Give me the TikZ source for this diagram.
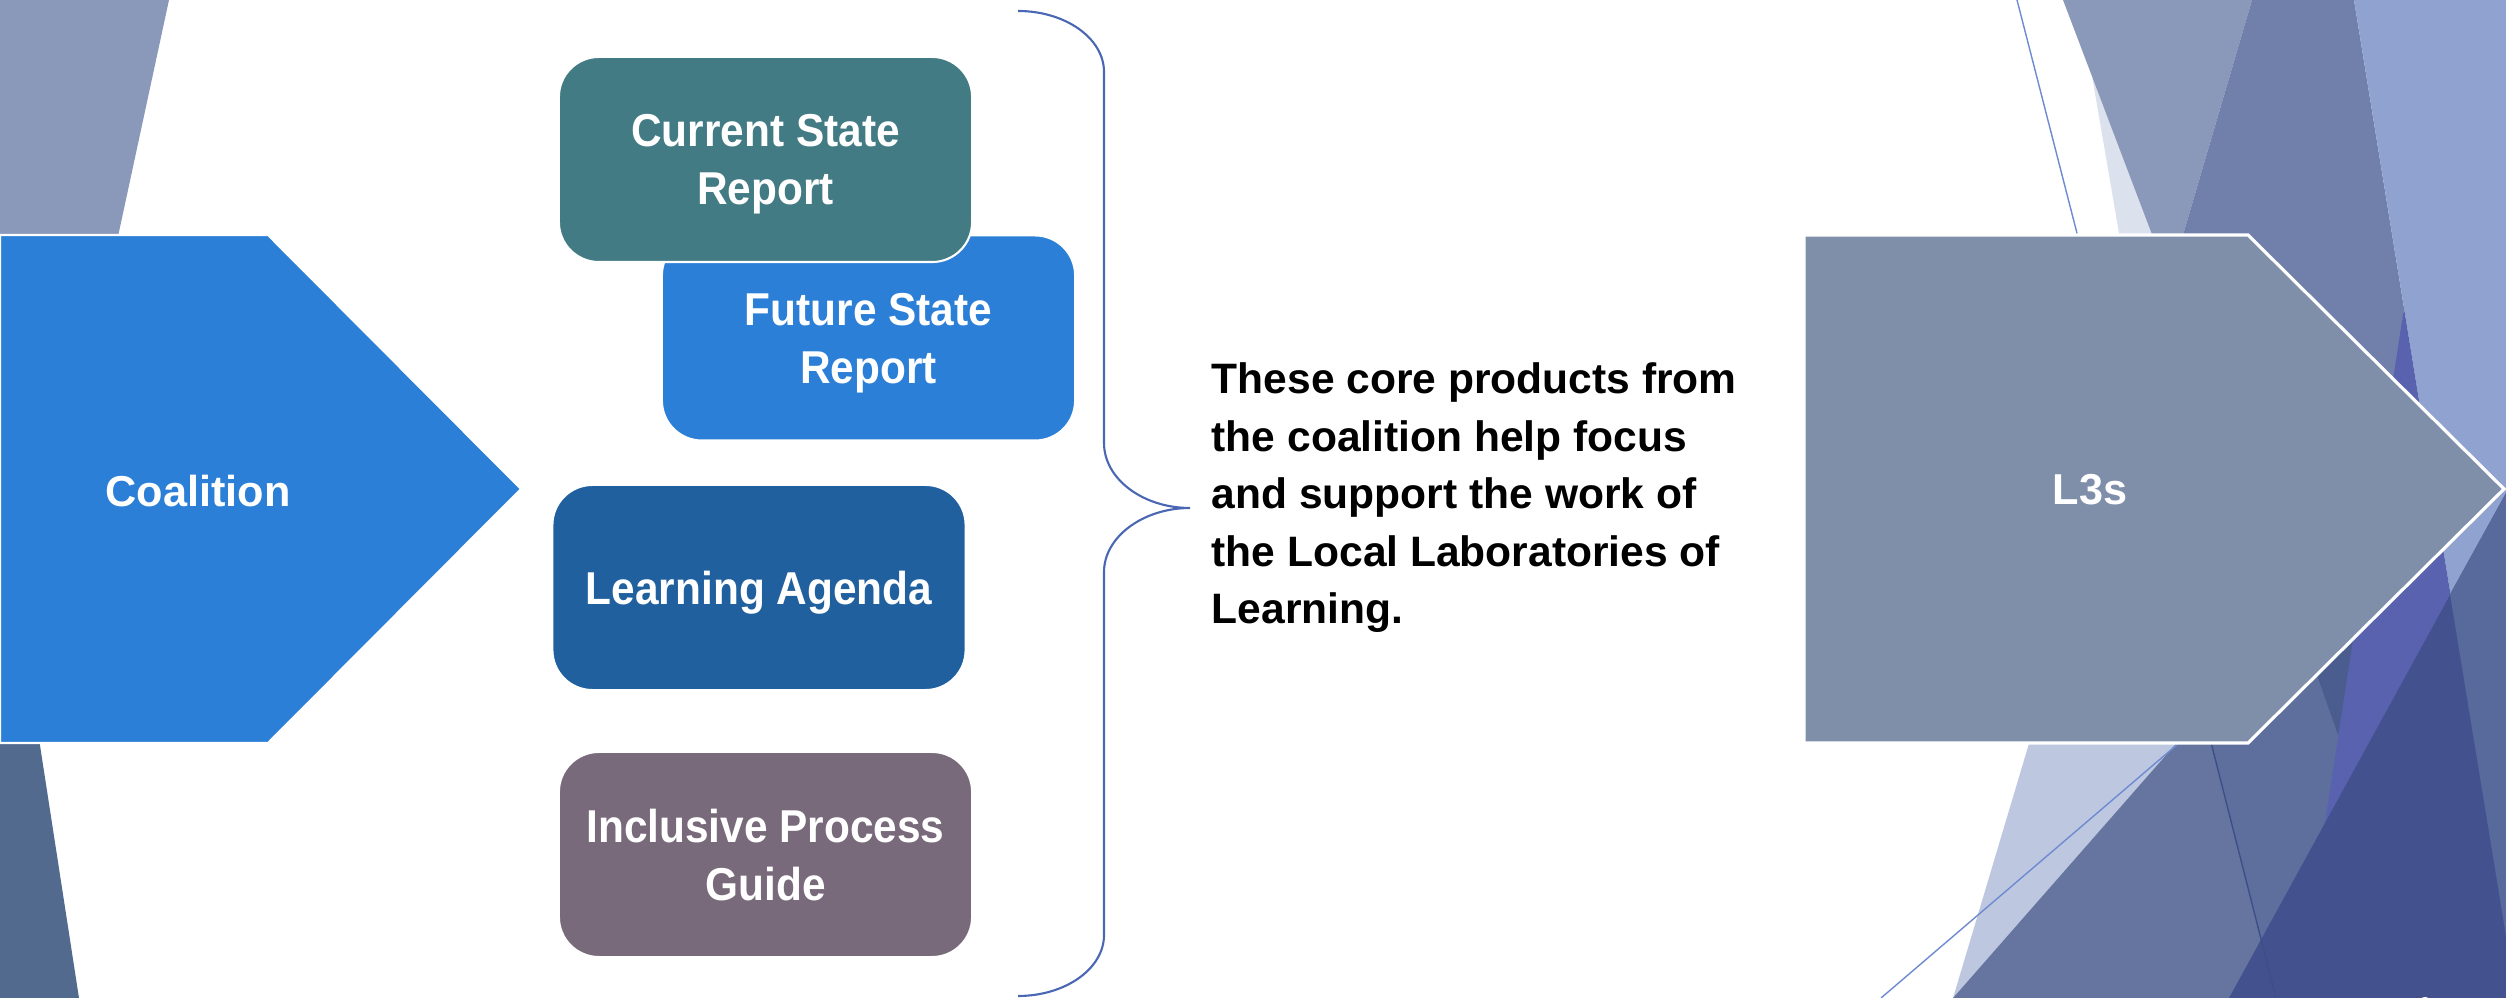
\documentclass[tikz,border=0pt]{standalone}
\usepackage{fontspec}
\setmainfont{Liberation Sans}
\newfontfamily\prodfont[FakeStretch=0.92]{Liberation Sans}
\usetikzlibrary{positioning}

% arrows and boxes
\definecolor{coalblue}{HTML}{2B7FD6}
\definecolor{lthreegray}{HTML}{7F8FA9}
\definecolor{currteal}{HTML}{437B84}
\definecolor{agendablue}{HTML}{21609E}
\definecolor{guidemauve}{HTML}{796A7B}
\definecolor{bracecol}{HTML}{4A67B3}
% background shards
\definecolor{shardgray}{HTML}{8A99BA}
\definecolor{shardslate}{HTML}{516A8E}
\definecolor{shardlav}{HTML}{DCE1EE}
\definecolor{shardsteel}{HTML}{7080AB}
\definecolor{shardperi}{HTML}{90A3D0}
\definecolor{shardpale}{HTML}{BDC8E0}
\definecolor{shardmid}{HTML}{6575A0}
\definecolor{shardmidb}{HTML}{5E6F9D}
\definecolor{sharddusk}{HTML}{4B5D8F}
\definecolor{shardpurple}{HTML}{5862AE}
\definecolor{shardnavy}{HTML}{43528E}
\definecolor{shardblue}{HTML}{586A9B}
\definecolor{shardline}{HTML}{3D4F88}
\definecolor{thinline}{HTML}{6E8AD0}

\tikzset{
  prodbox/.style={rectangle, rounded corners=0.4cm, draw=white, line width=0.6pt,
    minimum width=4.13cm, minimum height=2.05cm, align=center, text=white,
    text depth=0pt, font=\prodfont\bfseries\fontsize{13.1}{16.5}\selectfont},
  arrowlabel/.style={text=white, font=\bfseries\fontsize{12.3}{14}\selectfont},
}

\begin{document}
\begin{tikzpicture}[x=0.01cm, y=-0.01cm]
        \useasboundingbox (0,0) rectangle (2506,998);
        \clip (0,0) rectangle (2506,998);

        % Left shards
        \fill[shardgray] (0,0) -- (169,0) -- (100,320) -- (0,320) -- cycle;
        \fill[shardslate] (0,700) -- (33,700) -- (79,998) -- (0,998) -- cycle;

        % Right shards, back to front
        \fill[shardlav] (2079,0) -- (2160,0) -- (2170,245) -- (2121,245) -- cycle;
        \fill[shardgray] (2063,0) -- (2252,0) -- (2180,245) -- (2156,245) -- cycle;
        \fill[shardsteel] (2252,0) -- (2354,0) -- (2404,308) -- (2380,500) -- (2200,400) -- (2180,245) -- cycle;
        \fill[shardperi] (2354,0) -- (2506,0) -- (2506,936) -- cycle;
        \fill[shardpale] (2033,730) -- (2188,730) -- (1953,998) -- cycle;
        \fill[shardmidb] (2204,715) -- (2300,640) -- (2380,560) -- (2298,998) -- (2276,998) -- cycle;
        \fill[shardmid] (2188,730) -- (2204,715) -- (2276,998) -- (1953,998) -- cycle;
        \fill[sharddusk] (2310,655) -- (2365,620) -- (2338,735) -- cycle;
        \fill[shardpurple] (2404,308) -- (2506,936) -- (2506,998) -- (2298,998) -- cycle;
        \fill[shardnavy] (2506,493) -- (2506,998) -- (2229,998) -- cycle;
        \fill[shardblue] (2506,493) -- (2450,594) -- (2506,936) -- cycle;
        \draw[shardline, line width=0.4pt] (2204,715) -- (2276,998);
        \draw[thinline, line width=0.4pt] (1881,998) -- (2200,725);
        \draw[thinline, line width=0.4pt] (2017,0) -- (2080,245);
        % slide number, cut off at the bottom
        \fill[white] (2425,1005) ellipse (7 and 8);

        % Left arrow (Coalition)
        \filldraw[fill=coalblue, draw=white, line width=0.6pt]
          (0,235) -- (268,235) -- (521,489) -- (268,743) -- (0,743) -- cycle;
        \node[arrowlabel] (coalition) at (198,491) {Coalition};

        % Right arrow (L3s)
        \filldraw[fill=lthreegray, draw=white, line width=0.9pt]
          (1804,235) -- (2248,235) -- (2504,489) -- (2248,743) -- (1804,743) -- cycle;
        \node[arrowlabel] (lthrees) at (2090,490) {L3s};

        % Products
        \node[prodbox, fill=coalblue] (future) at (868.5,338) {Future State\\Report};
        \node[prodbox, fill=currteal] (current) at (765.5,159.5) {Current State\\Report};
        \node[prodbox, fill=agendablue] (agenda) at (759,587.5) {Learning Agenda};
        \node[prodbox, fill=guidemauve] (guide) at (765.5,854.5) {Inclusive Process\\Guide};

        % Brace round the products
        \coordinate (tip) at (1190,508);
        \draw[bracecol, line width=0.6pt] (1018,11) .. controls (1065,11) and (1104,38) .. (1104,72)
          -- (1104,443) .. controls (1104,479) and (1143,508) .. (tip)
          .. controls (1143,508) and (1104,537) .. (1104,572)
          -- (1104,935) .. controls (1104,969) and (1065,996) .. (1018,996);

        % Note next to the brace
        \node[right=0.21cm of tip, yshift=0.1cm, inner sep=0pt, align=left,
          font=\bfseries\fontsize{12.1}{16.35}\selectfont] (note)
          {These core products from\\the coalition help focus\\and support the work of\\the Local Laboratories of\\Learning.};
\end{tikzpicture}
\end{document}
